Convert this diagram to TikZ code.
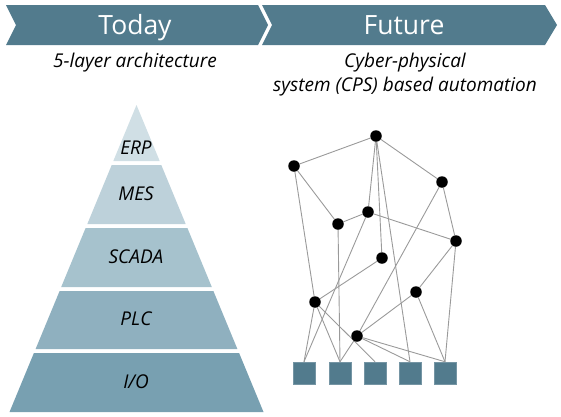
\documentclass[tikz,border=0pt]{standalone}
\usepackage{fontspec}
\setmainfont{Open Sans}
\usetikzlibrary{backgrounds}
\definecolor{hdr}{HTML}{527B8D}
\definecolor{lerp}{HTML}{D0DFE5}
\definecolor{lmes}{HTML}{BDD1DA}
\definecolor{lscada}{HTML}{A6C2CD}
\definecolor{lplc}{HTML}{8FB0BF}
\definecolor{lio}{HTML}{78A0B1}
\definecolor{edgegray}{HTML}{9A9A9A}
\tikzset{
  hdrtext/.style={text=white, font=\fontsize{26.5}{30}\selectfont, anchor=base, inner sep=0pt},
  subtext/.style={font=\itshape\fontsize{19}{22}\selectfont, anchor=base, inner sep=0pt},
  layertext/.style={font=\itshape\fontsize{19}{22}\selectfont, anchor=base, inner sep=0pt},
  dot/.style={circle, fill=black, minimum size=11.5pt, inner sep=0pt},
  io/.style={rectangle, fill=hdr, draw=hdr!80!white, line width=0.5pt, minimum size=22pt, inner sep=0pt},
  link/.style={draw=edgegray, line width=0.9pt},
}
\begin{document}
\begin{tikzpicture}[x=1pt,y=-1pt]
\useasboundingbox (0,0) rectangle (561,416);
% header chevrons
\fill[hdr] (6,5) -- (258,5) -- (268,25) -- (258,45) -- (6,45) -- (16,25) -- cycle;
\fill[hdr] (262,5) -- (545,5) -- (557,25) -- (545,45) -- (262,45) -- (272,25) -- cycle;
\node[hdrtext] (today) at (135,34) {Today};
\node[hdrtext] (future) at (404,34) {Future};
\node[subtext] (sub1) at (135,67) {5-layer architecture};
\node[subtext] (sub2) at (405,67) {Cyber-physical};
\node[subtext] (sub3) at (405,91) {system (CPS) based automation};
% pyramid
\fill[lerp] (136.5,105) -- (159.7,161) -- (113.3,161) -- cycle;
\fill[lmes] (111.7,165) -- (161.3,165) -- (185.7,224) -- (87.3,224) -- cycle;
\fill[lscada] (85.6,228) -- (187.4,228) -- (211.8,287) -- (61.2,287) -- cycle;
\fill[lplc] (59.6,291) -- (213.4,291) -- (237.4,349) -- (35.6,349) -- cycle;
\fill[lio] (33.9,353) -- (239.1,353) -- (263.5,412) -- (9.5,412) -- cycle;
\node[layertext] (erp) at (136,154) {ERP};
\node[layertext] (mes) at (136,200) {MES};
\node[layertext] (scada) at (136,263) {SCADA};
\node[layertext] (plc) at (136,325) {PLC};
\node[layertext] (iol) at (136,388) {I/O};
% network nodes
\node[dot] (A) at (376,136) {};
\node[dot] (B) at (294,166) {};
\node[dot] (C) at (442,182) {};
\node[dot] (D) at (338,224) {};
\node[dot] (E) at (368,212) {};
\node[dot] (F) at (456,241) {};
\node[dot] (G) at (382,258) {};
\node[dot] (H) at (416,292) {};
\node[dot] (I) at (315,302) {};
\node[dot] (J) at (357,336) {};
\node[io] (S1) at (304,373) {};
\node[io] (S2) at (340,373) {};
\node[io] (S3) at (375,373) {};
\node[io] (S4) at (410,373) {};
\node[io] (S5) at (445,373) {};
\begin{scope}[on background layer]
\draw[link] (A) -- (B);
\draw[link] (A) -- (C);
\draw[link] (A) -- (E);
\draw[link] (A) -- (G);
\draw[link] (A) -- (S4.north);
\draw[link] (B) -- (D);
\draw[link] (B) -- (I);
\draw[link] (C) -- (F);
\draw[link] (C) -- (J);
\draw[link] (D) -- (E);
\draw[link] (D) -- (S2.north);
\draw[link] (E) -- (F);
\draw[link] (E) -- (S1.north);
\draw[link] (F) -- (H);
\draw[link] (F) -- (S5.north);
\draw[link] (G) -- (I);
\draw[link] (H) -- (J);
\draw[link] (H) -- (S5.north);
\draw[link] (I) -- (S1.north);
\draw[link] (I) -- (S2.north);
\draw[link] (I) -- (S3.north);
\draw[link] (J) -- (S2.north);
\draw[link] (J) -- (S4.north);
\draw[link] (J) -- (S5.north);
\end{scope}
\end{tikzpicture}
\end{document}
